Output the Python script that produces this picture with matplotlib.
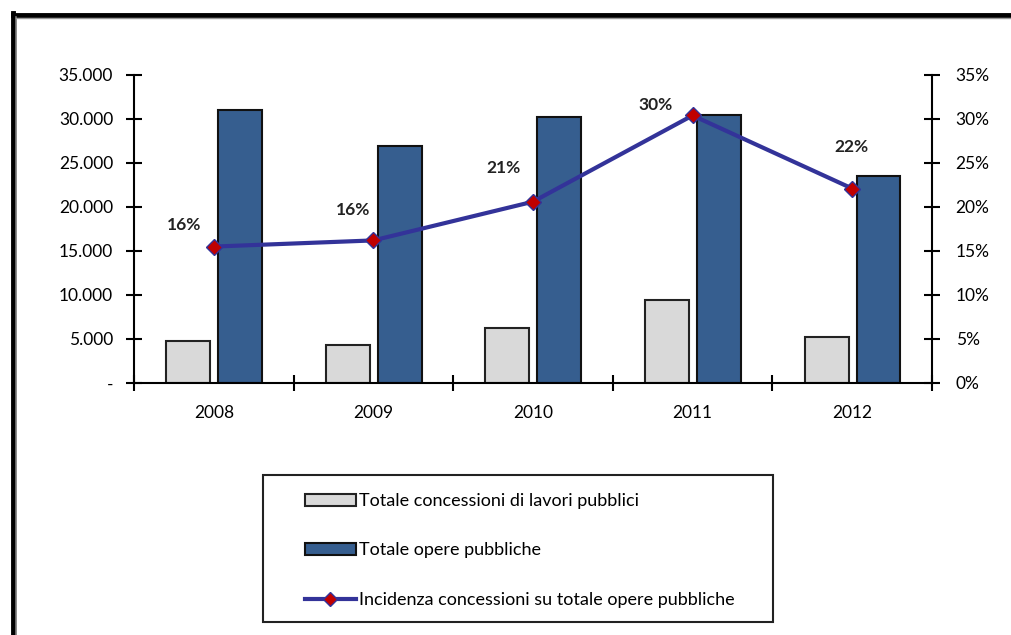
import numpy as np
import matplotlib.pyplot as plt
from matplotlib.patches import Rectangle
from matplotlib.lines import Line2D
from matplotlib.ticker import FuncFormatter
import matplotlib.transforms as mtransforms

plt.rcParams['font.family'] = ['Lato', 'DejaVu Sans']

years = ['2008', '2009', '2010', '2011', '2012']
concessioni = [4800, 4300, 6250, 9400, 5200]
opere = [31000, 26900, 30200, 30450, 23500]
incidenza = [0.155, 0.162, 0.206, 0.304, 0.221]

# hand-placed label offsets (pixels) for the percentage labels
label_dx = [-30, -20, -29, -37, -1]
label_dy = [22, 30, 34, 10, 42]

gray = '#d9d9d9'
blue = '#365e8f'
line_col = '#333399'
marker_col = '#c00000'

fig = plt.figure(figsize=(10.12, 6.35), dpi=100)
ax = fig.add_axes([0.1324, 0.3969, 0.7885, 0.485])
ax2 = ax.twinx()

x = np.arange(len(years))
w = 0.275
ax.bar(x - 0.16, concessioni, w, color=gray, edgecolor='#222222', linewidth=1.5, zorder=2)
ax.bar(x + 0.165, opere, w, color=blue, edgecolor='#111111', linewidth=1.5, zorder=2)

ax2.plot(x, incidenza, color=line_col, linewidth=3, marker='D', markersize=8,
         markerfacecolor=marker_col, markeredgecolor=line_col, markeredgewidth=1, zorder=3)
for i, v in enumerate(incidenza):
    off = mtransforms.offset_copy(ax2.transData, fig=fig,
                                  x=label_dx[i] / 100, y=label_dy[i] / 100, units='inches')
    ax2.text(x[i], v, f'{v * 100:.0f}%', transform=off, ha='center', va='center',
             fontsize=12.5, fontweight='bold', color='#222222')

ax.set_xlim(-0.5, len(years) - 0.5)
ax.set_ylim(0, 35000)
ax2.set_ylim(0, 0.35)
ax.set_yticks(np.arange(0, 35001, 5000))
ax2.set_yticks(np.arange(0, 0.351, 0.05))
ax.yaxis.set_major_formatter(FuncFormatter(
    lambda v, p: '-' if v == 0 else f'{v:,.0f}'.replace(',', '.')))
ax2.yaxis.set_major_formatter(FuncFormatter(lambda v, p: f'{v * 100:.0f}%'))

# category boundaries carry the tick marks, labels sit in between
ax.set_xticks(np.arange(-0.5, len(years)), labels=[''] * (len(years) + 1))
ax.set_xticks(x, labels=years, minor=True)
ax.tick_params(axis='x', which='minor', length=0, pad=16, labelsize=12.5)
ax.tick_params(axis='x', which='major', direction='inout', length=12, width=1.5)
ax.tick_params(axis='y', direction='inout', length=12, width=1.5, pad=9, labelsize=12.5)
ax2.tick_params(axis='y', direction='inout', length=12, width=1.5, pad=11, labelsize=12.5)

for a in (ax, ax2):
    a.spines['top'].set_visible(False)
    for s in ('left', 'right', 'bottom'):
        a.spines[s].set_linewidth(1.5)
        a.spines[s].set_color('black')
ax.spines['right'].set_visible(False)
ax2.spines['left'].set_visible(False)
ax2.spines['bottom'].set_visible(False)

# outer chart frame (only top and left edges are in view)
fig.add_artist(Line2D([13 / 1012, 1], [1 - 14.5 / 635] * 2, color='black', lw=3.5))
fig.add_artist(Line2D([13 / 1012] * 2, [0, 1 - 13 / 635], color='black', lw=3.5))
fig.add_artist(Line2D([16.5 / 1012] * 2, [0, 1 - 16.5 / 635], color='#777777', lw=1.2))
fig.add_artist(Line2D([16.5 / 1012, 1], [1 - 17.5 / 635] * 2, color='#999999', lw=1))

# legend box
fig.add_artist(Rectangle((263 / 1012, 1 - 622 / 635), 510 / 1012, 147 / 635,
                         transform=fig.transFigure, fill=False, edgecolor='#222222', lw=1.5))
handles = [Rectangle((0, 0), 1, 1, facecolor=gray, edgecolor='#222222', lw=1.5),
           Rectangle((0, 0), 1, 1, facecolor=blue, edgecolor='#111111', lw=1.5),
           Line2D([], [], color=line_col, lw=3, marker='D', markersize=7,
                  markerfacecolor=marker_col, markeredgecolor=line_col)]
labels = ['Totale concessioni di lavori pubblici', 'Totale opere pubbliche',
          'Incidenza concessioni su totale opere pubbliche']
fig.legend(handles, labels, loc='upper left', bbox_to_anchor=(305 / 1012, 1 - 493 / 635),
           frameon=False, fontsize=13, handlelength=2.8, handleheight=0.65,
           handletextpad=0.2, labelspacing=1.85, borderpad=0, borderaxespad=0)

fig.savefig('out.png', dpi=100)
